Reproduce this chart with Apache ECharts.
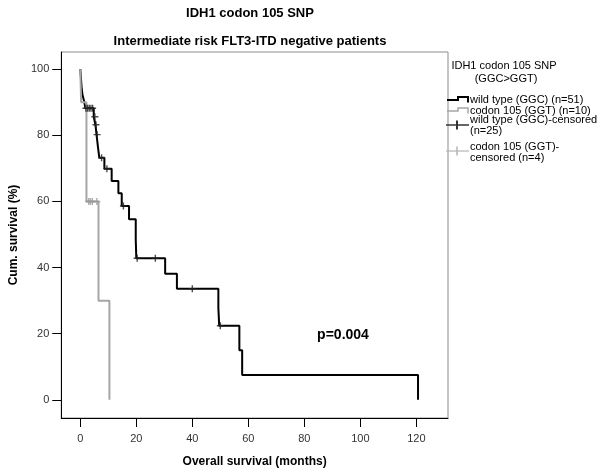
<!DOCTYPE html>
<html>
<head>
<meta charset="utf-8">
<script src="https://cdn.jsdelivr.net/npm/echarts@6/dist/echarts.min.js"></script>
<style>html,body{margin:0;padding:0;background:#fff;}#c{width:600px;height:473px;}</style>
</head>
<body>
<div id="c"></div>
<script>
// Kaplan-Meier step data (months, cumulative survival %)
var wildTimes = [0, 0.5, 0.8, 1.4, 1.8, 4.8, 5.4, 5.8, 6.3, 6.8, 8.6, 11.2, 13.6, 14.8, 17.4, 19.8, 20.0, 30.3, 34.5, 49.3, 49.6, 56.8, 57.8, 120.6];
var wildSurv  = [100, 94.1, 92.2, 90.2, 88.2, 85.6, 83.2, 80.2, 76.5, 73.2, 69.9, 66.2, 62.5, 58.6, 54.6, 48.5, 42.8, 38.1, 33.6, 27.8, 22.4, 15.0, 7.5, 0];
var codonTimes = [0, 0.3, 2.2, 6.5, 10.4];
var codonSurv  = [100, 90, 60, 30, 0];
// censored observations
var wildCensTimes = [2.0, 2.6, 3.2, 3.8, 4.4, 5.2, 5.6, 6.0, 7.6, 9.5, 15.4, 20.3, 26.8, 40.0, 50.0];
var wildCensSurv  = [88.2, 88.2, 88.2, 88.2, 88.2, 85.6, 83.2, 80.2, 73.2, 69.9, 58.6, 42.8, 42.8, 33.6, 22.4];
var codonCensTimes = [3.0, 3.6, 4.3, 5.9];
var codonCensSurv  = [60, 60, 60, 60];
// axis ticks
var xTicks = [0, 20, 40, 60, 80, 100, 120];
var yTicks = [0, 20, 40, 60, 80, 100];
var seriesNames = ['wild type (GGC) (n=51)', 'codon 105 (GGT) (n=10)', 'wild type (GGC)-censored\n(n=25)', 'codon 105 (GGT)-\ncensored (n=4)'];
var legendTitle = ['IDH1 codon 105 SNP', '(GGC>GGT)'];
var titles = ['IDH1 codon 105 SNP', 'Intermediate risk FLT3-ITD negative patients'];
var pText = 'p=0.004';

function zip(a, b) { return a.map(function (v, i) { return [v, b[i]]; }); }

var FONT = '"Liberation Sans", Arial, sans-serif';
var BLACK = '#000000', GREY = '#a6a6a6';
var plus = 'path://M0,3.2h8v1.6h-8z M3.2,0h1.6v8h-1.6z';

var chart = echarts.init(document.getElementById('c'), null, {renderer: 'canvas'});
var option = {
  animation: false,
  backgroundColor: '#fff',
  textStyle: {fontFamily: FONT},
  grid: {left: 57, right: 152, top: 52, bottom: 53, show: true, borderColor: '#8c8c8c', borderWidth: 1, backgroundColor: 'transparent'},
  xAxis: {
    type: 'value', min: -6.8, max: 131.3,
    name: 'Overall survival (months)', nameLocation: 'middle', nameGap: 38,
    nameTextStyle: {fontFamily: FONT, fontSize: 12, fontWeight: 'bold', color: '#000'},
    axisLine: {onZero: false, lineStyle: {color: '#000', width: 1}},
    axisTick: {show: true, length: 9, customValues: xTicks, lineStyle: {color: '#000'}},
    axisLabel: {customValues: xTicks, margin: 15, fontFamily: FONT, fontSize: 11, color: '#333'},
    splitLine: {show: false}
  },
  yAxis: {
    type: 'value', min: -5.5, max: 105.2,
    name: 'Cum. survival (%)', nameLocation: 'middle', nameGap: 36, nameRotate: 90,
    nameTextStyle: {fontFamily: FONT, fontSize: 12, fontWeight: 'bold', color: '#000'},
    axisLine: {show: true, onZero: false, lineStyle: {color: '#000', width: 1}},
    axisTick: {show: true, length: 9, customValues: yTicks, lineStyle: {color: '#000'}},
    axisLabel: {customValues: yTicks, margin: 12, fontFamily: FONT, fontSize: 11, color: '#333'},
    splitLine: {show: false}
  },
  series: [
    {name: seriesNames[0], type: 'line', step: 'end', data: zip(wildTimes, wildSurv), showSymbol: false, lineStyle: {color: BLACK, width: 2}, z: 2},
    {name: seriesNames[1], type: 'line', step: 'end', data: zip(codonTimes, codonSurv), showSymbol: false, lineStyle: {color: GREY, width: 2}, z: 3},
    {name: seriesNames[3], type: 'scatter', data: zip(codonCensTimes, codonCensSurv), symbol: plus, symbolSize: 7, itemStyle: {color: '#999'}, z: 4},
    {name: seriesNames[2], type: 'scatter', data: zip(wildCensTimes, wildCensSurv), symbol: plus, symbolSize: 7, itemStyle: {color: '#222'}, z: 5}
  ],
  graphic: [
    {type: 'text', x: 250, y: 13, style: {text: titles[0], font: 'bold 13px ' + FONT, fill: '#000', align: 'center', verticalAlign: 'middle'}},
    {type: 'text', x: 250, y: 41, style: {text: titles[1], font: 'bold 13px ' + FONT, fill: '#000', align: 'center', verticalAlign: 'middle'}},
    {type: 'text', x: 343, y: 335, style: {text: pText, font: 'bold 14px ' + FONT, fill: '#000', align: 'center', verticalAlign: 'middle'}},
    {type: 'text', x: 504, y: 66, style: {text: legendTitle[0], font: '11px ' + FONT, fill: '#000', align: 'center', verticalAlign: 'middle'}},
    {type: 'text', x: 506, y: 79, style: {text: legendTitle[1], font: '11px ' + FONT, fill: '#000', align: 'center', verticalAlign: 'middle'}},
    // legend icons
    {type: 'polyline', shape: {points: [[447, 100], [458, 100], [458, 97], [468, 97], [468, 102.5]]}, style: {stroke: BLACK, lineWidth: 2, fill: null}},
    {type: 'polyline', shape: {points: [[447, 111], [458, 111], [458, 108], [468, 108], [468, 113.5]]}, style: {stroke: GREY, lineWidth: 1.5, fill: null}},
    {type: 'line', shape: {x1: 446, y1: 125, x2: 469, y2: 125}, style: {stroke: '#333', lineWidth: 1.5}},
    {type: 'line', shape: {x1: 457, y1: 120.5, x2: 457, y2: 129.5}, style: {stroke: '#333', lineWidth: 2}},
    {type: 'line', shape: {x1: 446, y1: 151, x2: 469, y2: 151}, style: {stroke: '#b5b5b5', lineWidth: 1.2}},
    {type: 'line', shape: {x1: 457, y1: 146.5, x2: 457, y2: 155.5}, style: {stroke: '#b5b5b5', lineWidth: 1.5}},
    // legend labels
    {type: 'text', x: 470, y: 100, style: {text: seriesNames[0], font: '11px ' + FONT, fill: '#000', align: 'left', verticalAlign: 'middle'}},
    {type: 'text', x: 470, y: 111, style: {text: seriesNames[1], font: '11px ' + FONT, fill: '#000', align: 'left', verticalAlign: 'middle'}},
    {type: 'text', x: 470, y: 125.5, style: {text: seriesNames[2], font: '11px ' + FONT, lineHeight: 10.5, fill: '#000', align: 'left', verticalAlign: 'middle'}},
    {type: 'text', x: 470, y: 152.5, style: {text: seriesNames[3], font: '11px ' + FONT, lineHeight: 10.5, fill: '#000', align: 'left', verticalAlign: 'middle'}}
  ]
};
chart.setOption(option);
</script>
</body>
</html>
